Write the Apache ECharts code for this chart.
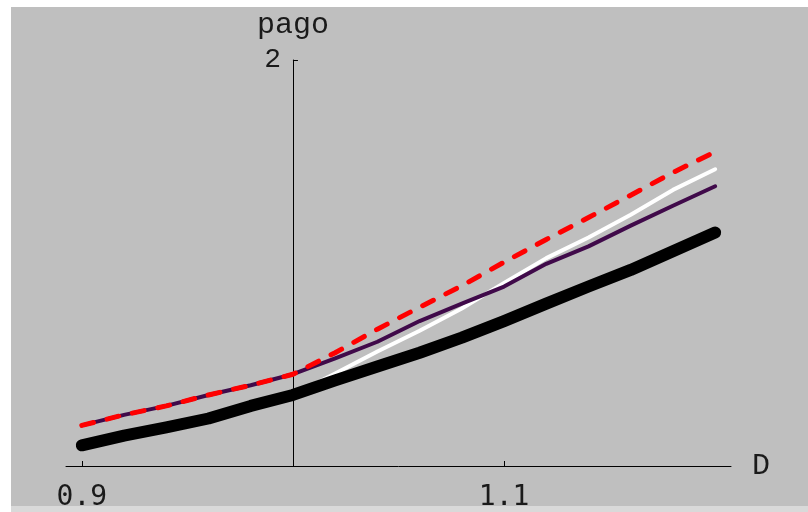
<!DOCTYPE html>
<html>
<head>
<meta charset="utf-8">
<script src="https://cdn.jsdelivr.net/npm/echarts@6/dist/echarts.min.js"></script>
<style>
  html, body { margin: 0; padding: 0; background: #ffffff; }
  #chart { width: 808px; height: 512px; }
</style>
</head>
<body>
<div id="chart"></div>
<script>
// Sample points in D
const dValues = [0.90, 0.92, 0.94, 0.96, 0.98, 1.00, 1.02, 1.04, 1.06, 1.08, 1.10, 1.12, 1.14, 1.16, 1.18, 1.20];

// pago curves
const pagoBlack  = [1.051, 1.075, 1.095, 1.117, 1.148, 1.175, 1.211, 1.245, 1.279, 1.316, 1.357, 1.400, 1.442, 1.483, 1.529, 1.575];
const pagoWhite  = [1.051, 1.075, 1.095, 1.117, 1.148, 1.175, 1.228, 1.282, 1.333, 1.388, 1.451, 1.512, 1.563, 1.619, 1.680, 1.731];
const pagoPurple = [1.100, 1.126, 1.148, 1.175, 1.199, 1.226, 1.265, 1.306, 1.357, 1.400, 1.442, 1.498, 1.541, 1.592, 1.641, 1.689];
const pagoRed    = [1.100, 1.126, 1.148, 1.175, 1.199, 1.226, 1.279, 1.337, 1.391, 1.444, 1.502, 1.558, 1.612, 1.667, 1.723, 1.774];

// Axis settings
const xRange = [0.8925, 1.2075];
const yRange = [1, 2];
const xTickLabels = [0.9, 1.1];
const yTickLabels = [2];
const xCross = 1.0;

const gridLeft = 66, gridRight = 77, gridTop = 60, gridBottom = 40;
const chartWidth = 808;
const gridWidth = chartWidth - gridLeft - gridRight;
// shift the y axis so it crosses the x axis at D = 1.0
const yAxisOffset = -((xCross - xRange[0]) / (xRange[1] - xRange[0])) * gridWidth;

function pairs(ys) { return dValues.map((d, i) => [d, ys[i]]); }

const chart = echarts.init(document.getElementById('chart'), null, { renderer: 'canvas' });

const monoSerif = '"Liberation Mono", "DejaVu Sans Mono", monospace';
const monoSans = '"DejaVu Sans Mono", "Liberation Mono", monospace';

chart.setOption({
  animation: false,
  backgroundColor: '#ffffff',
  graphic: [
    { type: 'rect', left: 11, top: 7, z: -10, silent: true,
      shape: { width: 797, height: 499 }, style: { fill: '#bfbfbf' } },
    { type: 'rect', left: 11, top: 506, z: 100, silent: true,
      shape: { width: 797, height: 6 }, style: { fill: '#d9d9d9' } }
  ],
  grid: { left: gridLeft, right: gridRight, top: gridTop, bottom: gridBottom, containLabel: false },
  xAxis: {
    type: 'value',
    min: xRange[0],
    max: xRange[1],
    name: 'D',
    nameLocation: 'end',
    nameGap: 21,
    nameTextStyle: { fontFamily: monoSerif, fontSize: 30, color: '#1a1a1a', padding: [0, 0, 4, 0] },
    axisLine: { onZero: false, lineStyle: { color: '#000000', width: 1 } },
    axisTick: { show: true, inside: true, length: 5, customValues: xTickLabels,
      lineStyle: { color: '#000000', width: 1 } },
    axisLabel: { show: true, customValues: xTickLabels, margin: 18,
      fontFamily: monoSans, fontSize: 28, color: '#1a1a1a',
      formatter: v => v.toFixed(1) },
    splitLine: { show: false }
  },
  yAxis: {
    type: 'value',
    min: yRange[0],
    max: yRange[1],
    offset: yAxisOffset,
    name: 'pago',
    nameLocation: 'end',
    nameGap: 20,
    nameTextStyle: { fontFamily: monoSerif, fontSize: 30, color: '#1a1a1a', align: 'center' },
    axisLine: { show: true, onZero: false, lineStyle: { color: '#000000', width: 1 } },
    axisTick: { show: true, inside: true, length: 5, customValues: yTickLabels,
      lineStyle: { color: '#000000', width: 1 } },
    axisLabel: { show: true, customValues: yTickLabels, margin: 12,
      fontFamily: monoSerif, fontSize: 28, color: '#1a1a1a',
      formatter: v => String(v) },
    splitLine: { show: false }
  },
  series: [
    { type: 'line', name: 'white', data: pairs(pagoWhite), showSymbol: false, symbol: 'none',
      lineStyle: { color: '#ffffff', width: 4, cap: 'round', join: 'round' } },
    { type: 'line', name: 'black', data: pairs(pagoBlack), showSymbol: false, symbol: 'none',
      lineStyle: { color: '#000000', width: 12, cap: 'round', join: 'round' } },
    { type: 'line', name: 'purple', data: pairs(pagoPurple), showSymbol: false, symbol: 'none',
      lineStyle: { color: '#400a4a', width: 4, cap: 'round', join: 'round' } },
    { type: 'line', name: 'red', data: pairs(pagoRed), showSymbol: false, symbol: 'none',
      lineStyle: { color: '#ff0000', width: 5, type: [12, 14], cap: 'round', join: 'round' } }
  ]
});
</script>
</body>
</html>
